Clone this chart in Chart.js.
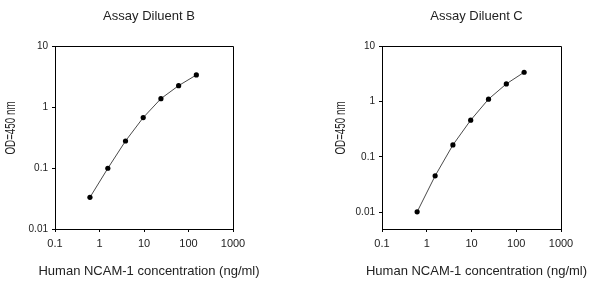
<!DOCTYPE html>
<html>
<head>
<meta charset="utf-8">
<script src="https://cdn.jsdelivr.net/npm/chart.js@4.4.1/dist/chart.umd.min.js"></script>
<style>
  html, body { margin: 0; padding: 0; background: #fff; }
  body { width: 590px; height: 281px; position: relative; overflow: hidden; }
  .box { position: absolute; top: 0; width: 295px; height: 281px; }
  #boxB { left: 0; }
  #boxC { left: 295px; }
</style>
</head>
<body>
<div class="box" id="boxB"><canvas id="chartB"></canvas></div>
<div class="box" id="boxC"><canvas id="chartC"></canvas></div>
<script>
// ---- data ----
const concentration = [0.61, 1.54, 3.84, 9.6, 24, 60, 150];
const odDiluentB = [0.033, 0.099, 0.277, 0.67, 1.37, 2.24, 3.35];
const odDiluentC = [0.0102, 0.0455, 0.164, 0.46, 1.10, 2.07, 3.36];
const xTicks = [0.1, 1, 10, 100, 1000];
const xTickLabels = ['0.1', '1', '10', '100', '1000'];
const yTicks = [0.01, 0.1, 1, 10];
const yTickLabels = ['0.01', '0.1', '1', '10'];
const titleB = 'Assay Diluent B';
const titleC = 'Assay Diluent C';
const xTitle = 'Human NCAM-1 concentration (ng/ml)';
const yTitle = 'OD=450 nm';

const FONT = '"Liberation Sans", Arial, Helvetica, sans-serif';
const TEXT = '#222';

const textPlugin = {
  id: 'textPlugin',
  beforeDatasetsDraw(chart, args, opts) {
    const { ctx, chartArea: a } = chart;
    ctx.save();
    ctx.strokeStyle = '#000';
    ctx.lineWidth = 1;
    ctx.beginPath();
    ctx.moveTo(a.left, a.top + 0.5);
    ctx.lineTo(a.right + 0.5, a.top + 0.5);
    ctx.lineTo(a.right + 0.5, a.bottom);
    ctx.stroke();
    ctx.restore();
  },
  afterDraw(chart, args, opts) {
    const { ctx, chartArea: a } = chart;
    const cx = (a.left + a.right) / 2 + opts.shift;
    ctx.save();
    ctx.fillStyle = TEXT;
    ctx.textAlign = 'center';
    ctx.textBaseline = 'alphabetic';
    ctx.font = '13px ' + FONT;
    ctx.fillText(opts.title, cx, 19.5);
    ctx.fillText(opts.xTitle, cx, 275);
    ctx.translate(a.left + opts.yTitleDx, 128);
    ctx.rotate(-Math.PI / 2);
    ctx.scale(0.7, 1);
    ctx.font = '14px ' + FONT;
    ctx.textBaseline = 'middle';
    ctx.fillText(opts.yTitle, 0, 0);
    ctx.restore();
  }
};

function makeChart(id, values, yMin, area, title, yTitleDx) {
  const W = 295, H = 281;
  const points = concentration.map((c, i) => ({ x: c, y: values[i] }));
  return new Chart(document.getElementById(id), {
    type: 'scatter',
    data: {
      datasets: [{
        data: points,
        showLine: true,
        borderColor: '#4a4a4a',
        borderWidth: 1,
        pointRadius: 2.6,
        pointHoverRadius: 2.6,
        pointBackgroundColor: '#000',
        pointBorderWidth: 0
      }]
    },
    options: {
      responsive: false,
      animation: false,
      devicePixelRatio: 1,
      layout: { padding: { left: 0, top: area.top, right: W - area.right, bottom: 0 } },
      plugins: {
        legend: { display: false },
        tooltip: { enabled: false },
        textPlugin: { title: title, xTitle: xTitle, yTitle: yTitle, shift: 5, yTitleDx: yTitleDx }
      },
      scales: {
        x: {
          type: 'logarithmic',
          min: 0.1, max: 1000,
          afterFit(s) { s.height = H - area.bottom; },
          afterBuildTicks(s) { s.ticks = xTicks.map(v => ({ value: v })); },
          ticks: {
            autoSkip: false, maxRotation: 0, padding: 5,
            color: TEXT, font: { family: FONT, size: 11 },
            callback: (v) => { const i = xTicks.indexOf(v); return i >= 0 ? xTickLabels[i] : ''; }
          },
          grid: { display: true, drawOnChartArea: false, drawTicks: true, tickLength: 3, color: '#000', lineWidth: 1 },
          border: { display: true, color: '#000', width: 1 }
        },
        y: {
          type: 'logarithmic',
          min: yMin, max: 10,
          afterFit(s) { s.width = area.left; },
          afterBuildTicks(s) { s.ticks = yTicks.map(v => ({ value: v })); },
          ticks: {
            autoSkip: false, padding: 4,
            color: TEXT, font: { family: FONT, size: 10 },
            callback: (v) => { const i = yTicks.indexOf(v); return i >= 0 ? yTickLabels[i] : ''; }
          },
          grid: { display: true, drawOnChartArea: false, drawTicks: true, tickLength: 3, color: '#000', lineWidth: 1 },
          border: { display: true, color: '#000', width: 1 }
        }
      }
    },
    plugins: [textPlugin]
  });
}

function sizeCanvas(id) {
  const c = document.getElementById(id);
  c.width = 295; c.height = 281;
  c.style.width = '295px'; c.style.height = '281px';
}
sizeCanvas('chartB');
sizeCanvas('chartC');
makeChart('chartB', odDiluentB, 0.01, { left: 55, top: 46, right: 233, bottom: 229 }, titleB, -44);
makeChart('chartC', odDiluentC, 0.005, { left: 87, top: 46, right: 266, bottom: 229 }, titleC, -41);
</script>
</body>
</html>
